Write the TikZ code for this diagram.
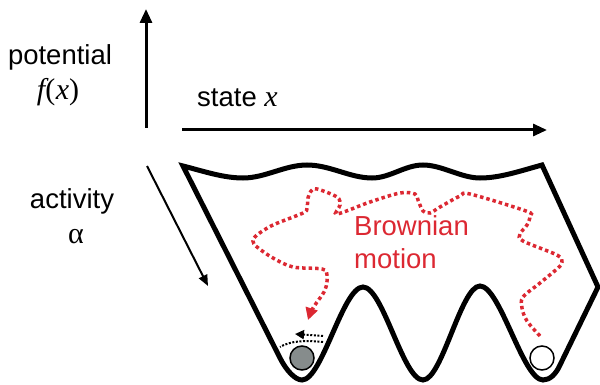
\documentclass[tikz,border=0pt]{standalone}
\usepackage{fontspec}
\setmainfont{Liberation Sans}
\newfontfamily\tms{Liberation Serif}
\usetikzlibrary{arrows.meta}
\definecolor{bred}{RGB}{220,40,50}
\definecolor{ballgray}{RGB}{134,140,140}
\begin{document}
\begin{tikzpicture}[x=1pt,y=-1pt,
  lbl/.style={inner sep=0pt, font=\fontsize{27.5}{32}\selectfont},
  serlbl/.style={inner sep=0pt, font=\fontsize{30}{34}\selectfont\tms},
  axisarrow/.style={line width=3pt, -{Triangle[length=14pt,width=12pt]}},
  thinarrow/.style={line width=2pt, -{Triangle[length=11pt,width=9pt]}},
  landscape/.style={line width=5pt, line join=miter},
  reddots/.style={bred, line width=3.5pt, dash pattern=on 3.5pt off 3pt, -{Triangle[length=12pt,width=12pt]}},
  blackdots/.style={black, line width=2pt, dash pattern=on 2pt off 1.6pt},
  ball/.style={circle, draw=black, line width=1.5pt, minimum size=24pt, inner sep=0pt}]
\useasboundingbox (0,0) rectangle (600,385);

% axes
\coordinate (vbot) at (146,128);
\coordinate (vtop) at (146,9);
\coordinate (hl) at (182,130);
\coordinate (hr) at (547,130);
\coordinate (dtop) at (147,166);
\coordinate (dbot) at (208,286);
\draw[axisarrow] (vbot) -- (vtop);
\draw[axisarrow] (hl) -- (hr);
\draw[thinarrow] (dtop) -- (dbot);

% labels
\node[lbl] (pot) at (60,57) {potential};
\node[serlbl] (fx) at (58,92) {{\itshape f}(\kern0.5pt{\itshape x})};
\node[lbl, anchor=base west] (state) at (197,107) {state {\fontsize{30}{34}\selectfont\tms\itshape x}};
\node[lbl] (act) at (72,201) {activity};
\node[serlbl, anchor=base] (alpha) at (76,243) {α};
\node[lbl, text=bred, anchor=base west] (brown1) at (354,235) {Brownian};
\node[lbl, text=bred, anchor=base west] (brown2) at (354,268) {motion};

% energy landscape
\draw[landscape] (183,166)
  .. controls (203,171) and (223,178) .. (243,178)
  .. controls (265,178) and (285,165) .. (307,165)
  .. controls (330,165) and (350,178) .. (372,178)
  .. controls (390,178) and (405,165) .. (423,165)
  .. controls (442,165) and (461,178) .. (480,178)
  .. controls (500,178) and (520,171) .. (542,165)
  -- (598,287) -- (560,365)
  .. controls (556,374) and (550,380) .. (543,380)
  .. controls (523,380) and (500,286) .. (480,286)
  .. controls (461,286) and (442,380) .. (423,380)
  .. controls (403,380) and (383,287) .. (363,287)
  .. controls (343,287) and (322,380) .. (302,380)
  .. controls (295,380) and (286,370) .. (280,358)
  -- cycle;

% balls
\node[ball, fill=ballgray] (gball) at (302,358) {};
\node[ball, fill=white] (wball) at (542,358) {};

% black dotted arrows near grey ball
\coordinate (ba1) at (323,336);
\coordinate (ba2) at (295,334);
\coordinate (bb1) at (323,342);
\coordinate (bb2) at (280,347);
\draw[blackdots, -{Triangle[length=9pt,width=9pt]}] (ba1) -- (ba2);
\draw[blackdots] (bb1) .. controls (305,340) and (290,341) .. (bb2);

% brownian path
\draw[reddots] plot[smooth, tension=0.55] coordinates {
  (540,336) (527,321) (522,308) (523,297) (540,283) (558,268) (562,262)
  (557,255) (523,241) (520,234) (527,225) (530,216) (526,211) (470,194)
  (460,196) (440,207) (430,213) (423,211) (418,200) (415,194) (400,193)
  (370,202) (337,214) (340,205) (337,197) (317,189) (311,191) (308,198)
  (307,208) (303,213) (273,225) (257,235) (253,241) (257,247) (273,258)
  (293,267) (322,269) (327,275) (325,290) (313,308) (308,320)};
\end{tikzpicture}
\end{document}
